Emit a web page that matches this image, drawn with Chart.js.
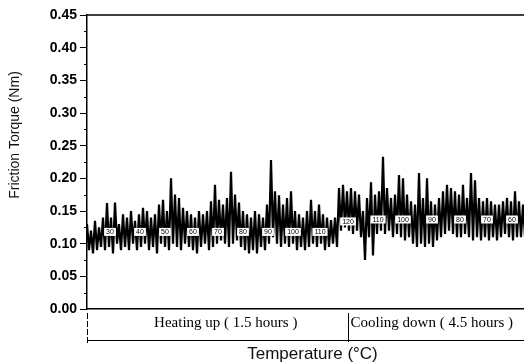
<!DOCTYPE html>
<html><head><meta charset="utf-8">
<script src="https://cdn.jsdelivr.net/npm/chart.js@4/dist/chart.umd.min.js"></script>
<style>html,body{margin:0;padding:0;background:#fff}#wrap{width:524px;height:362px;position:relative}</style>
</head><body><div id="wrap"><canvas id="c"></canvas></div>
<script>
// Envelope of the friction torque trace (Nm), one column per ~4 px of time
const bandHigh = [
0.13,0.12,0.135,0.125,0.14,0.162,0.14,0.163,0.13,0.145,
0.14,0.15,0.135,0.145,0.155,0.15,0.14,0.145,0.16,0.167,
0.15,0.2,0.175,0.17,0.155,0.15,0.145,0.14,0.15,0.145,
0.15,0.165,0.19,0.167,0.16,0.17,0.21,0.175,0.163,0.15,
0.145,0.14,0.15,0.145,0.14,0.16,0.228,0.18,0.174,0.16,
0.17,0.18,0.15,0.145,0.14,0.15,0.167,0.15,0.16,0.145,
0.14,0.136,0.14,0.185,0.19,0.18,0.185,0.18,0.175,0.15,
0.17,0.194,0.175,0.18,0.233,0.185,0.17,0.175,0.205,0.2,
0.175,0.165,0.16,0.208,0.17,0.2,0.165,0.16,0.17,0.18,
0.19,0.185,0.18,0.175,0.19,0.17,0.208,0.197,0.17,0.165,
0.17,0.165,0.16,0.16,0.165,0.17,0.165,0.18,0.165,0.16];
const bandLow = [
0.09,0.085,0.09,0.095,0.09,0.095,0.085,0.1,0.09,0.095,
0.09,0.1,0.09,0.095,0.1,0.09,0.095,0.085,0.1,0.095,
0.09,0.1,0.095,0.09,0.1,0.095,0.09,0.085,0.095,0.1,
0.09,0.095,0.1,0.105,0.1,0.095,0.1,0.105,0.095,0.09,
0.085,0.09,0.085,0.095,0.09,0.1,0.11,0.1,0.095,0.1,
0.095,0.1,0.09,0.095,0.09,0.095,0.1,0.095,0.1,0.09,
0.095,0.1,0.095,0.12,0.125,0.12,0.115,0.12,0.11,0.075,
0.11,0.082,0.115,0.12,0.115,0.12,0.11,0.115,0.11,0.105,
0.11,0.1,0.095,0.1,0.095,0.1,0.095,0.105,0.11,0.115,
0.12,0.115,0.11,0.11,0.115,0.11,0.105,0.11,0.105,0.11,
0.105,0.11,0.105,0.11,0.115,0.11,0.105,0.11,0.11,0.11];

// Temperature markers (°C) written along the trace
const tempLabels = ['30','40','50','60','70','80','90','100','110','120','110','100','90','80','70','60'];
const tempPos    = [5.75,13.25,19.5,26.5,32.75,39,45.25,51.5,58.25,65.25,72.75,79,86.25,93.25,100,106.25];
const tempLevel  = [0.118,0.118,0.118,0.118,0.118,0.118,0.118,0.118,0.118,0.134,0.137,0.137,0.137,0.137,0.137,0.137];

const yMin = 0, yMax = 0.45, yStep = 0.05;
const phaseLabels = ['Heating up ( 1.5 hours )', 'Cooling down ( 4.5 hours )'];
const phaseBoundary = 65.25;   // end of heating, in trace columns
const phaseEnd = 109.25;
const xTitle = 'Temperature (°C)';
const yTitle = 'Friction Torque (Nm)';

const points = [];
bandHigh.forEach((h, k) => { points.push({x: k, y: h}); points.push({x: k + 0.5, y: bandLow[k]}); });

const extras = {
  id: 'extras',
  afterDatasetsDraw(chart) {
    const {ctx, scales: {x, y}} = chart;
    ctx.save();
    ctx.font = '7px "Liberation Sans", Arial, sans-serif';
    ctx.textAlign = 'center';
    ctx.textBaseline = 'middle';
    tempLabels.forEach((t, i) => {
      const px = x.getPixelForValue(tempPos[i]);
      const py = y.getPixelForValue(tempLevel[i]);
      const w = ctx.measureText(t).width + 4;
      ctx.fillStyle = '#fff';
      ctx.fillRect(px - w / 2, py - 4, w, 8);
      ctx.fillStyle = '#000';
      ctx.fillText(t, px, py + 0.5);
    });
    ctx.restore();
  },
  afterDraw(chart) {
    const {ctx, chartArea: a, scales: {x, y}} = chart;
    ctx.save();
    ctx.strokeStyle = '#000';
    // top frame line
    ctx.lineWidth = 1.5;
    ctx.beginPath(); ctx.moveTo(a.left, a.top); ctx.lineTo(a.right, a.top); ctx.stroke();
    // minor ticks on y axis
    ctx.lineWidth = 1;
    for (let v = yMin + yStep / 2; v < yMax; v += yStep) {
      const py = Math.round(y.getPixelForValue(v)) + 0.5;
      ctx.beginPath(); ctx.moveTo(a.left - 3, py); ctx.lineTo(a.left, py); ctx.stroke();
    }
    // phase bracket under the axis
    const xb = Math.round(x.getPixelForValue(phaseBoundary)) + 0.5;
    const yTop = a.bottom + 4, yLine = a.bottom + 31;
    ctx.setLineDash([6, 2]);
    ctx.beginPath(); ctx.moveTo(a.left + 0.5, yTop); ctx.lineTo(a.left + 0.5, yLine + 5); ctx.stroke();
    ctx.setLineDash([]);
    ctx.beginPath(); ctx.moveTo(xb, yTop); ctx.lineTo(xb, yLine + 2); ctx.stroke();
    ctx.beginPath(); ctx.moveTo(a.left, yLine + 0.5); ctx.lineTo(a.right, yLine + 0.5); ctx.stroke();
    // phase texts
    ctx.fillStyle = '#000';
    ctx.font = '15px "Liberation Serif", "Times New Roman", serif';
    ctx.textBaseline = 'middle';
    ctx.textAlign = 'center';
    ctx.fillText(phaseLabels[0], (a.left + xb) / 2 + 8, a.bottom + 14);
    ctx.textAlign = 'left';
    ctx.fillText(phaseLabels[1], xb + 2, a.bottom + 14);
    // x title
    ctx.textAlign = 'center';
    ctx.font = '17px "Liberation Sans", Arial, sans-serif';
    ctx.fillStyle = '#111';
    ctx.fillText(xTitle, (a.left + x.getPixelForValue(phaseEnd)) / 2 + 7, a.bottom + 45);
    // y title
    ctx.translate(15, 135);
    ctx.rotate(-Math.PI / 2);
    ctx.font = '14px "Liberation Sans", Arial, sans-serif';
    ctx.fillText(yTitle, 0, 0);
    ctx.restore();
  }
};

new Chart(document.getElementById('c'), {
  type: 'line',
  data: { datasets: [
    { data: points, borderColor: '#000', borderWidth: 2.2, pointRadius: 0, tension: 0, fill: false }
  ] },
  options: {
    responsive: true, maintainAspectRatio: false, animation: false,
    layout: { padding: { top: 15, right: 0, left: 0, bottom: 0 } },
    plugins: { legend: { display: false }, tooltip: { enabled: false } },
    scales: {
      x: {
        type: 'linear', min: 0, max: phaseEnd,
        grid: { display: false },
        border: { display: true, color: '#000', width: 1.5 },
        ticks: { display: false },
        afterFit(s) { s.height = 53; }
      },
      y: {
        min: yMin, max: yMax,
        grid: { drawOnChartArea: false, color: '#000', tickLength: 7, tickWidth: 1 },
        border: { display: true, color: '#000', width: 1.5 },
        ticks: { stepSize: yStep, color: '#000', padding: 3,
                 font: { family: '"Liberation Sans", Arial, sans-serif', size: 14, weight: 'bold' },
                 callback: v => v.toFixed(2) },
        afterFit(s) { s.width = 87; }
      }
    }
  },
  plugins: [extras]
});
</script>
</body></html>
